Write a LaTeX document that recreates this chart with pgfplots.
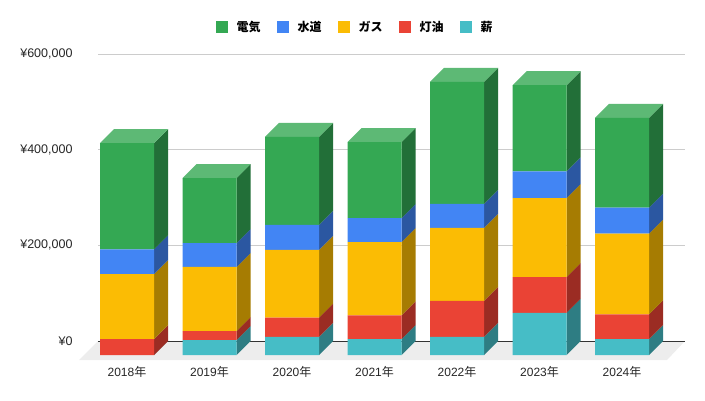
\documentclass[border=0pt]{standalone}
\usepackage{fontspec}
\usepackage{pgfplots}
\usepackage{pgfplotstable}
\pgfplotsset{compat=1.18}
\setmainfont{Liberation Sans}
\newfontfamily\cjk{Noto Sans CJK JP}
\definecolor{cG}{HTML}{34A853}\definecolor{cGs}{HTML}{226F38}\definecolor{cGt}{HTML}{5DB975}
\definecolor{cB}{HTML}{4285F4}\definecolor{cBs}{HTML}{2B57A1}
\definecolor{cY}{HTML}{FBBC04}\definecolor{cYs}{HTML}{A67C02}
\definecolor{cR}{HTML}{EA4335}\definecolor{cRs}{HTML}{9B2C23}
\definecolor{cT}{HTML}{46BDC6}\definecolor{cTs}{HTML}{2E7D83}
\pgfplotstableread{
x teal red gas water elec
0 0 33000 136000 52000 222000
1 31000 19000 134000 50000 136000
2 38000 40000 142000 52000 184000
3 33000 50000 153000 50000 159000
4 38000 75000 153000 50000 255000
5 88000 75000 165000 56000 180000
6 33000 52000 169000 54000 188000
}\data
\def\DY{29270}
\newcommand\side[4]{% x, y0, y1, colour
  \pgfmathsetmacro\xa{#1+0.3273}\pgfmathsetmacro\xb{#1+0.4970}%
  \edef\tmp{\noexpand\addplot[fill=#4,draw=none,forget plot] coordinates
    {(\xa,#2)(\xb,\the\numexpr#2+\DY\relax)(\xb,\the\numexpr#3+\DY\relax)(\xa,#3)};}\tmp}
\newcommand\topface[3]{% x, y, colour
  \pgfmathsetmacro\xa{#1-0.3273}\pgfmathsetmacro\xb{#1+0.3273}%
  \pgfmathsetmacro\xc{#1+0.4970}\pgfmathsetmacro\xd{#1-0.1576}%
  \edef\tmp{\noexpand\addplot[fill=#3,draw=none,forget plot] coordinates
    {(\xa,#2)(\xb,#2)(\xc,\the\numexpr#2+\DY\relax)(\xd,\the\numexpr#2+\DY\relax)};}\tmp}
\newcommand\addseg[3]{% row, column, colour
  \pgfplotstablegetelem{#1}{#2}\of\data
  \edef\cN{\the\numexpr\cO+\pgfplotsretval\relax}%
  \side{#1}{\cO}{\cN}{#3}%
  \global\let\cO\cN}
\pgfplotsset{common/.style={
  scale only axis,width=606pt,height=320pt,
  xmin=-0.5818,xmax=6.7636,ymin=-10450,ymax=658600,clip=false,
  at={(79pt,40pt)},anchor=south west}}
\begin{document}
\begin{tikzpicture}[x=1pt,y=1pt]
\path[use as bounding box] (0,0) rectangle (705,400);
\begin{axis}[common,
  axis line style={draw=none},tick style={draw=none},
  xtick={0,1,2,3,4,5,6},
  xticklabels={2018{\cjk 年},2019{\cjk 年},2020{\cjk 年},2021{\cjk 年},2022{\cjk 年},2023{\cjk 年},2024{\cjk 年}},
  ytick={29270,229270,429270,629270},
  yticklabels={¥0,{¥200,000},{¥400,000},{¥600,000}},
  yticklabel style={font=\fontsize{12.5}{14}\selectfont,anchor=east,xshift=-3pt,color=black!85},
  xticklabel style={font=\fontsize{12}{14}\selectfont,anchor=center,yshift=-12pt,color=black!85},
  scaled y ticks=false]
\addplot[fill=black!7,draw=none,forget plot] coordinates {(-0.5818,-10450)(6.5455,-10450)(6.7636,29270)(-0.3515,29270)};
\addplot[draw=black!20,line width=0.8pt,forget plot] coordinates {(-0.3515,229270)(6.7636,229270)};
\addplot[draw=black!20,line width=0.8pt,forget plot] coordinates {(-0.3515,429270)(6.7636,429270)};
\addplot[draw=black!20,line width=0.8pt,forget plot] coordinates {(-0.3515,629270)(6.7636,629270)};
\addplot[draw=black!80,line width=0.8pt,forget plot] coordinates {(-0.3515,29270)(6.7636,29270)};
\pgfplotsforeachungrouped \r in {0,...,6}{%
  \gdef\cO{0}%
  \addseg{\r}{teal}{cTs}\addseg{\r}{red}{cRs}\addseg{\r}{gas}{cYs}\addseg{\r}{water}{cBs}\addseg{\r}{elec}{cGs}%
  \topface{\r}{\cO}{cGt}}
\end{axis}
\begin{axis}[common,hide axis,ybar stacked,bar width=54pt,
  reverse legend,legend columns=5,
  legend image code/.code={\fill[#1] (0pt,-6pt) rectangle (12pt,6pt);},
  legend style={draw=none,fill=none,at={(0.5,1)},anchor=center,yshift=13pt,xshift=-27pt,
    font=\cjk\bfseries\fontsize{12}{14}\selectfont,
    /tikz/every even column/.append style={column sep=14pt},
    /tikz/every odd column/.append style={column sep=7pt}}]
\addplot[fill=cT,draw=none] table[x=x,y=teal]{\data};\addlegendentry{薪}
\addplot[fill=cR,draw=none] table[x=x,y=red]{\data};\addlegendentry{灯油}
\addplot[fill=cY,draw=none] table[x=x,y=gas]{\data};\addlegendentry{ガス}
\addplot[fill=cB,draw=none] table[x=x,y=water]{\data};\addlegendentry{水道}
\addplot[fill=cG,draw=none] table[x=x,y=elec]{\data};\addlegendentry{電気}
\end{axis}
\end{tikzpicture}
\end{document}
